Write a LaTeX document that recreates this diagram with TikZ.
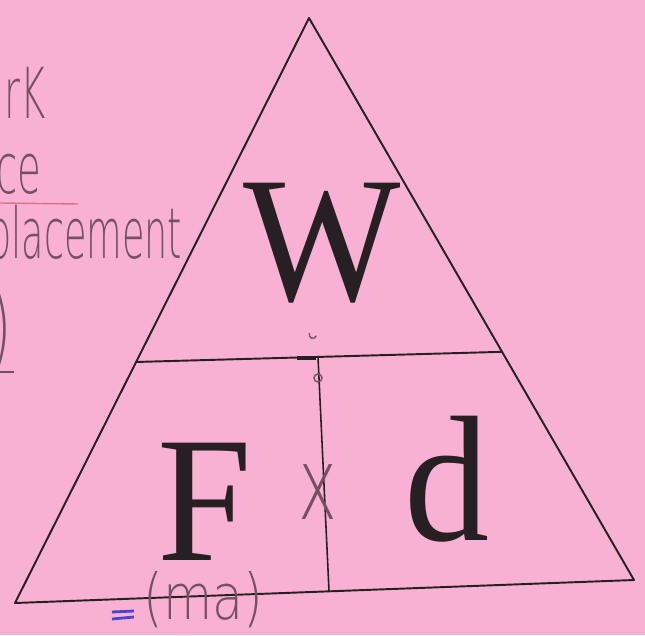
\documentclass[tikz,border=0pt]{standalone}
\usepackage{fontspec}
\usepackage{graphicx}
\setmainfont{Liberation Serif}
\newfontfamily\hand{DejaVu Sans ExtraLight}
\usetikzlibrary{calc}
\definecolor{paper}{RGB}{248,177,210}
\definecolor{ink}{RGB}{38,32,36}
\definecolor{pencil}{RGB}{115,80,98}
\definecolor{blueink}{RGB}{72,70,205}
\definecolor{redline}{RGB}{225,110,135}
\tikzset{
  edge/.style={draw=ink, line width=1.1pt, line cap=round, line join=round},
  big/.style={text=ink, inner sep=0pt, anchor=base, font=\fontsize{102}{102}\selectfont},
  handw/.style={text=pencil, inner sep=0pt, font=\hand\fontsize{40}{40}\selectfont},
  pmark/.style={draw=pencil, line width=0.8pt, line cap=round}
}
\begin{document}
\begin{tikzpicture}[x=0.02cm,y=-0.02cm]
\fill[paper] (0,0) rectangle (645,635);
\useasboundingbox (0,0) rectangle (645,635);
\clip (0,0) rectangle (645,635);
% triangle
\coordinate (top) at (309,18);
\coordinate (bl) at (15,603);
\coordinate (br) at (634,580);
\coordinate (hl) at ($(top)!0.588!(bl)$);
\coordinate (hr) at ($(top)!0.594!(br)$);
\coordinate (vt) at (318,357);
\coordinate (vb) at (329,591);
\draw[edge] (top) -- (bl) -- (br) -- cycle;
\draw[edge] (hl) -- (hr);
\draw[edge, line width=0.9pt] (vt) -- (vb);
% letters
\node[big] (W) at (322,300) {\scalebox{0.93}[1]{W}};
\node[big] (F) at (205,560) {\scalebox{0.95}[1]{F}};
\node[big] (d) at (447,540) {\scalebox{0.95}[1]{d}};
% handwriting at the left margin
\node[handw, anchor=base east] (rk) at (46,118) {\scalebox{0.55}[1]{rK}};
\node[handw, anchor=base east] (ce) at (42,193) {\scalebox{0.55}[1]{ce}};
\draw[redline, line width=0.8pt] (0,203) -- (78,204);
\node[handw, anchor=base west] (plc) at (-12,258) {\scalebox{0.52}[1]{placement}};
\node[handw, anchor=base east, font=\hand\fontsize{52}{52}\selectfont] (par) at (12,358) {\scalebox{0.6}[1]{)}};
\draw[pencil, line width=0.8pt] (0,372) -- (14,372);
% times sign and small marks
\node[text=pencil, inner sep=0pt, font=\hand\fontsize{44}{44}\selectfont] (times) at (318,492) {\scalebox{0.85}[1.3]{x}};
\draw[ink, line width=2.2pt] (297,358) -- (316,358);
\draw[pmark] (318,378) circle (4);
\draw[pmark] (316,336) arc (20:200:3.5);
% (ma)
\node[handw, anchor=base west, font=\hand\fontsize{36}{36}\selectfont] (ma) at (143,619) {\scalebox{0.8}[1]{(ma)}};
\draw[blueink, line width=1.6pt] (112,612) -- (134,611);
\draw[blueink, line width=1.6pt] (112,619) -- (134,617);
\end{tikzpicture}
\end{document}
